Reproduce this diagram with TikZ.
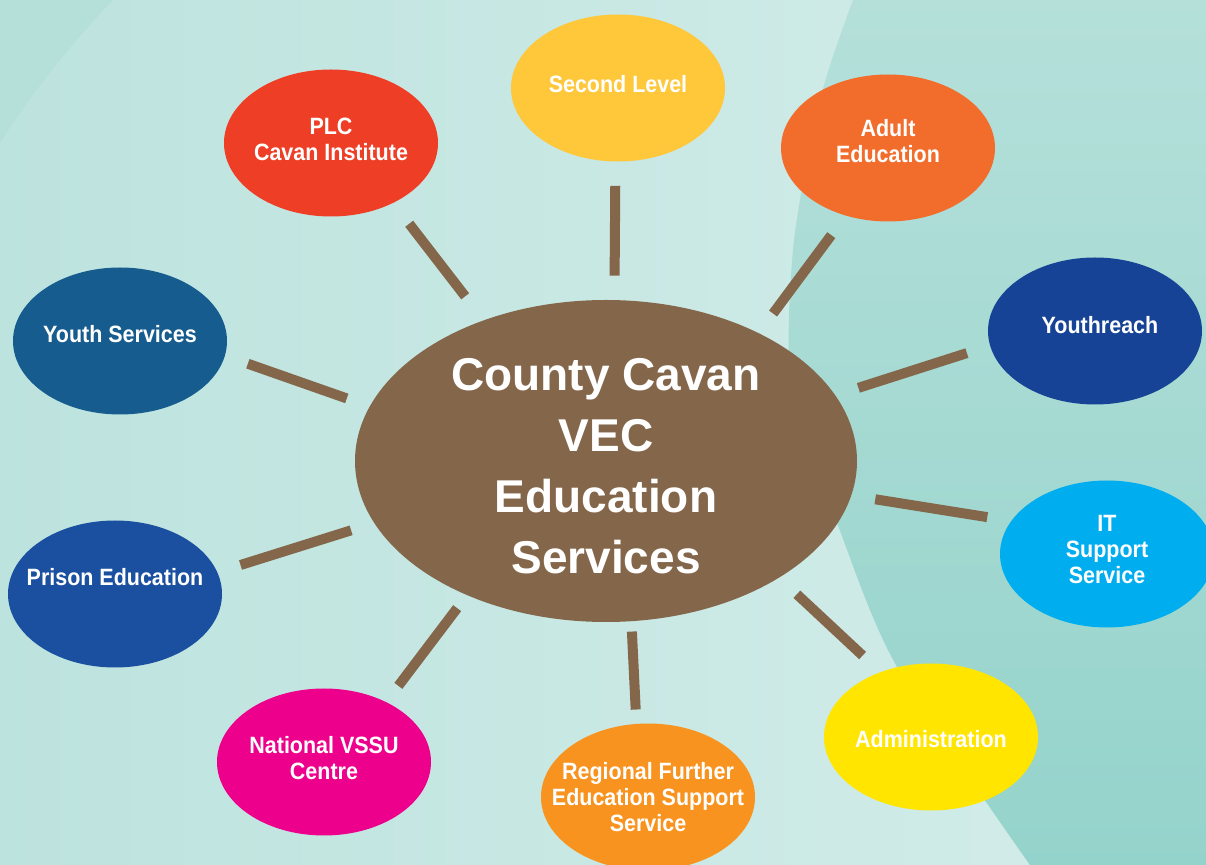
\documentclass[tikz,border=0pt]{standalone}
\usepackage{fontspec}
\setmainfont{Liberation Sans}
\newfontfamily\lblfont{Liberation Sans}[FakeStretch=0.91]
\usetikzlibrary{shapes.geometric}
\definecolor{bgleft}{RGB}{189,227,222}
\definecolor{bgright}{RGB}{212,237,234}
\definecolor{bgcorner}{RGB}{181,224,218}
\definecolor{bgtop}{RGB}{181,224,218}
\definecolor{bgbottom}{RGB}{148,211,203}
\definecolor{hubbrown}{RGB}{132,103,75}
\definecolor{secyellow}{RGB}{254,200,58}
\definecolor{plcred}{RGB}{239,62,38}
\definecolor{adultorange}{RGB}{242,109,43}
\definecolor{yrblue}{RGB}{22,67,150}
\definecolor{itblue}{RGB}{0,173,238}
\definecolor{adminyellow}{RGB}{255,229,0}
\definecolor{regorange}{RGB}{247,147,30}
\definecolor{vssupink}{RGB}{236,0,140}
\definecolor{prisonblue}{RGB}{27,80,161}
\definecolor{ysblue}{RGB}{22,92,143}
\begin{document}
\begin{tikzpicture}[x=0.5pt,y=-0.5pt,
  svc/.style={ellipse, minimum width=107pt, minimum height=73.5pt, inner sep=0pt},
  lbl/.style={text=white, align=center, yshift=2pt, font=\lblfont\bfseries\fontsize{11.8}{13}\selectfont},
  hubtext/.style={text=white, align=center, yshift=-2.5pt, font=\bfseries\fontsize{23}{30.4}\selectfont},
  spoke/.style={draw=hubbrown, line width=5pt, shorten <=12pt, shorten >=12pt}]
\useasboundingbox (0,0) rectangle (1206,865);
\clip (0,0) rectangle (1206,865);
\shade[left color=bgleft, right color=bgright] (0,0) rectangle (1206,865);
\fill[bgcorner] (0,0) -- (113,0) .. controls (70,45) and (30,95) .. (0,143) -- cycle;
\shade[top color=bgtop, bottom color=bgbottom] plot[smooth] coordinates {(853,0) (820,100) (793,250) (792,400) (837,523) (897,667) (1030,865)} -- (1206,865) -- (1206,0) -- cycle;
\node[ellipse, minimum width=251pt, minimum height=161pt, inner sep=0pt, fill=hubbrown, label={[hubtext]center:County Cavan\\VEC\\Education\\Services}] (hub) at (606,461) {};
\node[svc, fill=secyellow, label={[lbl]center:Second Level}] (sec) at (618,88) {};
\node[svc, fill=plcred, label={[lbl]center:PLC\\Cavan Institute}] (plc) at (331,143) {};
\node[svc, fill=adultorange, label={[lbl,yshift=1.5pt]center:Adult\\Education}] (adult) at (888,148) {};
\node[svc, fill=yrblue, label={[lbl,xshift=2.5pt,yshift=1pt]center:Youthreach}] (yr) at (1095,331) {};
\node[svc, fill=itblue, label={[lbl]center:IT\\Support\\Service}] (it) at (1107,554) {};
\node[svc, fill=adminyellow, label={[lbl,yshift=-3pt]center:Administration}] (admin) at (931,737) {};
\node[svc, fill=regorange, label={[lbl,yshift=-2pt]center:Regional Further\\Education Support\\Service}] (reg) at (648,797) {};
\node[svc, fill=vssupink, label={[lbl]center:National VSSU\\Centre}] (vssu) at (324,762) {};
\node[svc, fill=prisonblue, label={[lbl,yshift=6.5pt]center:Prison Education}] (prison) at (115,594) {};
\node[svc, fill=ysblue, label={[lbl,yshift=1.5pt]center:Youth Services}] (ys) at (120,341) {};
\draw[spoke] (hub.87) -- (sec.268);
\draw[spoke, shorten <=15pt, shorten >=13pt] (hub.131) -- (plc.316);
\draw[spoke] (hub.40) -- (adult.238);
\draw[spoke] (hub.16) -- (yr.188);
\draw[spoke] (hub.352) -- (it.161);
\draw[spoke] (hub.326) -- (admin.128);
\draw[spoke, shorten <=5pt, shorten >=7pt] (hub.279) -- (reg.99);
\draw[spoke, shorten <=8pt, shorten >=10pt] (hub.224) -- (vssu.44);
\draw[spoke] (hub.195) -- (prison.12);
\draw[spoke] (hub.167) -- (ys.352);
\end{tikzpicture}
\end{document}
